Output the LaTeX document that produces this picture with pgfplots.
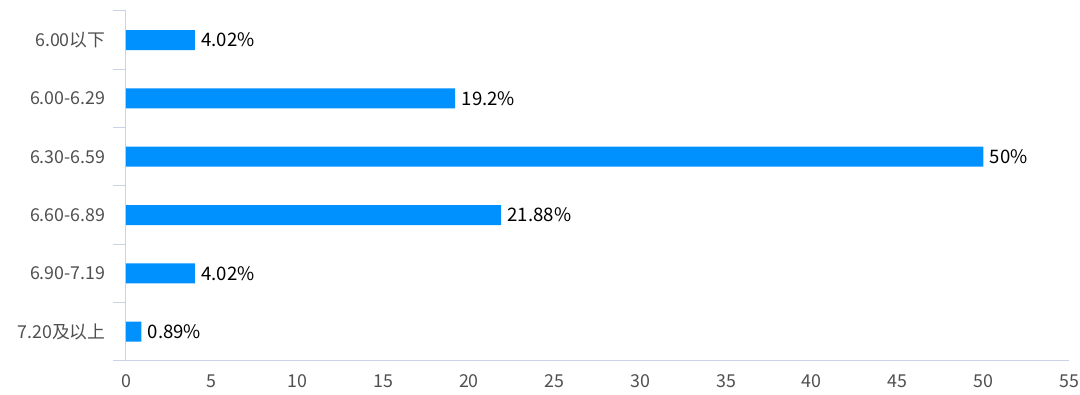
\documentclass[border=0pt]{standalone}
\usepackage{fontspec}
\setmainfont{Noto Sans CJK SC}
\usepackage{pgfplots}
\pgfplotsset{compat=1.18}
\definecolor{barblue}{RGB}{0,145,255}
\definecolor{axisc}{RGB}{200,212,230}
\definecolor{ticklab}{RGB}{80,80,80}
\begin{document}
\begin{tikzpicture}
\path[use as bounding box] (0pt,0pt) rectangle (1080pt,394pt);
\begin{axis}[
  at={(126pt,354pt)}, anchor=origin,
  scale only axis, width=943pt, height=350pt,
  xbar, bar width=20pt,
  xmin=0, xmax=55, xtick={0,5,...,55},
  ymin=-0.5, ymax=5.5, y dir=reverse,
  ytick={0,1,2,3,4,5},
  yticklabels={6.00以下,6.00-6.29,6.30-6.59,6.60-6.89,6.90-7.19,7.20及以上},
  minor ytick={-0.5,0.5,1.5,2.5,3.5,4.5,5.5},
  major tick length=0pt, minor tick length=13pt,
  tick align=outside,
  minor tick style={draw=axisc, line width=1pt},
  axis x line*=bottom, axis y line*=left,
  axis line style={draw=axisc, line width=1pt, -},
  x axis line style={shorten <=-13pt},
  tick label style={font=\fontsize{17.8}{20}\selectfont, text=ticklab},
  xticklabel style={yshift=-10pt},
  yticklabel style={xshift=-17pt},
  /pgf/number format/assume math mode=true,
  point meta=explicit symbolic,
  nodes near coords,
  nodes near coords style={anchor=west, xshift=3pt, font=\fontsize{18.6}{21}\selectfont, text=black},
]
\addplot[fill=barblue, draw=none] coordinates {
  (4.02,0) [4.02\%]
  (19.2,1) [19.2\%]
  (50,2) [50\%]
  (21.88,3) [21.88\%]
  (4.02,4) [4.02\%]
  (0.89,5) [0.89\%]
};
\end{axis}
\end{tikzpicture}
\end{document}
